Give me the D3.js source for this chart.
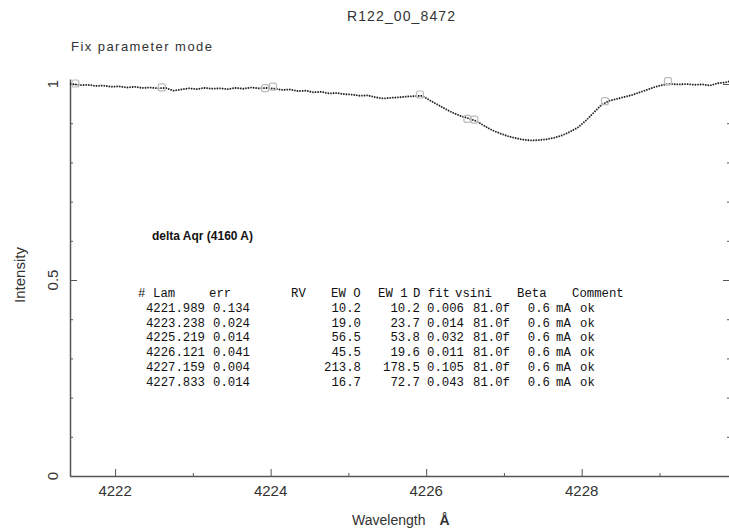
<!DOCTYPE html>
<html>
<head>
<meta charset="utf-8">
<script src="https://cdn.jsdelivr.net/npm/d3@7"></script>
<style>
  body { margin: 0; background: #fff; }
  svg { display: block; }
  .axis path, .axis line { stroke: #555; }
  .axis path { stroke-width: 1.5; }
  .lbl { font-family: "Liberation Sans", Arial, sans-serif; fill: #333; }
  .tbl { font-family: "Liberation Mono", "Courier New", monospace; font-size: 12.3px; fill: #111; }
</style>
</head>
<body>
<svg id="chart" width="729" height="530"></svg>
<script>
// spectrum: [wavelength, intensity]
var spectrum = [
  [4221.42, 1.000], [4221.45, 1.000], [4221.55, 0.997], [4221.65, 0.998], [4221.75, 0.995],
  [4221.85, 0.996], [4221.95, 0.993], [4222.05, 0.994], [4222.15, 0.991], [4222.25, 0.993],
  [4222.35, 0.990], [4222.45, 0.991], [4222.55, 0.989], [4222.65, 0.990], [4222.75, 0.983],
  [4222.85, 0.986], [4222.95, 0.989], [4223.05, 0.987], [4223.15, 0.990], [4223.25, 0.988],
  [4223.35, 0.989], [4223.45, 0.987], [4223.55, 0.990], [4223.65, 0.988], [4223.75, 0.991],
  [4223.85, 0.989], [4223.95, 0.990], [4224.05, 0.988], [4224.15, 0.985], [4224.25, 0.986],
  [4224.35, 0.982], [4224.45, 0.983], [4224.55, 0.979], [4224.65, 0.980], [4224.75, 0.976],
  [4224.85, 0.977], [4224.95, 0.974], [4225.05, 0.973], [4225.15, 0.970], [4225.25, 0.971],
  [4225.35, 0.966], [4225.45, 0.963], [4225.55, 0.965], [4225.65, 0.966], [4225.75, 0.968],
  [4225.85, 0.969], [4225.95, 0.970], [4226.05, 0.958], [4226.15, 0.947], [4226.25, 0.936],
  [4226.35, 0.926], [4226.45, 0.918], [4226.55, 0.912], [4226.65, 0.905], [4226.75, 0.893],
  [4226.85, 0.882], [4226.95, 0.874], [4227.05, 0.867], [4227.15, 0.862], [4227.25, 0.858],
  [4227.35, 0.856], [4227.45, 0.857], [4227.55, 0.859], [4227.65, 0.863], [4227.75, 0.869],
  [4227.85, 0.878], [4227.95, 0.889], [4228.05, 0.906], [4228.15, 0.926], [4228.25, 0.946],
  [4228.35, 0.957], [4228.45, 0.962], [4228.55, 0.967], [4228.65, 0.972], [4228.75, 0.979],
  [4228.85, 0.986], [4228.95, 0.993], [4229.05, 0.998], [4229.15, 1.000], [4229.25, 0.999],
  [4229.35, 1.000], [4229.45, 0.998], [4229.55, 0.999], [4229.65, 0.996], [4229.75, 1.002],
  [4229.85, 1.004], [4229.92, 1.008]
];

// grey continuum / limit markers
var markers = [
  [4221.49, 1.000], [4222.60, 0.990], [4223.93, 0.988], [4224.03, 0.992], [4225.92, 0.972],
  [4226.53, 0.910], [4226.62, 0.908], [4228.30, 0.955], [4229.11, 1.006]
];

var xMajor = [4222, 4224, 4226, 4228];
var xMinor = [4223, 4225, 4227, 4229];
var yMajor = [0, 0.5, 1];
var yMinor = [0.1, 0.2, 0.3, 0.4, 0.6, 0.7, 0.8, 0.9];
var yLabels = ["0", "0.5", "1"];

// line table
var tblHeader = ["#", "Lam", "err", "RV", "EW O", "EW 1", "D fit", "vsini", "Beta", "Comment"];
var lam   = ["4221.989", "4223.238", "4225.219", "4226.121", "4227.159", "4227.833"];
var err   = ["0.134", "0.024", "0.014", "0.041", "0.004", "0.014"];
var ew0   = ["10.2", "19.0", "56.5", "45.5", "213.8", "16.7"];
var ew1   = ["10.2", "23.7", "53.8", "19.6", "178.5", "72.7"];
var dfit  = ["0.006", "0.014", "0.032", "0.011", "0.105", "0.043"];
var vsini = ["81.0f", "81.0f", "81.0f", "81.0f", "81.0f", "81.0f"];
var beta  = ["0.6", "0.6", "0.6", "0.6", "0.6", "0.6"];
var unit  = ["mA", "mA", "mA", "mA", "mA", "mA"];
var comment = ["ok", "ok", "ok", "ok", "ok", "ok"];

var svg = d3.select("#chart");

var x = d3.scaleLinear().domain([4221.42, 4229.92]).range([70, 731]);
var y = d3.scaleLinear().domain([0, 1.0128]).range([476, 79]);

// axes
svg.append("g").attr("class", "axis")
    .attr("transform", "translate(0,476)")
    .call(d3.axisTop(x).tickValues(xMajor).tickSize(7).tickSizeOuter(0).tickFormat(""));
svg.append("g").attr("class", "axis")
    .attr("transform", "translate(0,476)")
    .call(d3.axisTop(x).tickValues(xMinor).tickSize(3).tickSizeOuter(0).tickFormat(""))
    .select(".domain").remove();

svg.append("g").attr("class", "axis")
    .attr("transform", "translate(70,0)")
    .call(d3.axisRight(y).tickValues(yMajor).tickSize(7).tickSizeOuter(0).tickFormat(""));
svg.append("g").attr("class", "axis")
    .attr("transform", "translate(70,0)")
    .call(d3.axisRight(y).tickValues(yMinor).tickSize(3).tickSizeOuter(0).tickFormat(""))
    .select(".domain").remove();

// right side ticks (axis line itself is just off the picture)
svg.append("g").attr("class", "axis")
    .attr("transform", "translate(730,0)")
    .call(d3.axisLeft(y).tickValues(yMajor).tickSize(7).tickSizeOuter(0).tickFormat(""));
svg.append("g").attr("class", "axis")
    .attr("transform", "translate(730,0)")
    .call(d3.axisLeft(y).tickValues(yMinor).tickSize(3).tickSizeOuter(0).tickFormat(""))
    .select(".domain").remove();

// tick labels
svg.selectAll(".xlab").data(xMajor).enter().append("text")
    .attr("class", "lbl")
    .attr("x", function (d) { return x(d); })
    .attr("y", 496)
    .attr("text-anchor", "middle")
    .style("font-size", "15px")
    .text(function (d) { return d; });

svg.selectAll(".ylab").data(yMajor).enter().append("text")
    .attr("class", "lbl")
    .attr("transform", function (d) { return "translate(58," + y(d) + ") rotate(-90)"; })
    .attr("text-anchor", "middle")
    .style("font-size", "15px")
    .text(function (d, i) { return yLabels[i]; });

// titles
svg.append("text").attr("class", "lbl")
    .attr("x", 401).attr("y", 21).attr("text-anchor", "middle")
    .style("font-size", "14px")
    .attr("textLength", 108).attr("lengthAdjust", "spacing")
    .text("R122_00_8472");

svg.append("text").attr("class", "lbl")
    .attr("x", 71).attr("y", 51)
    .style("font-size", "13px")
    .attr("textLength", 141).attr("lengthAdjust", "spacing")
    .text("Fix parameter mode");

svg.append("text").attr("class", "lbl")
    .attr("transform", "translate(25,275) rotate(-90)")
    .attr("text-anchor", "middle")
    .style("font-size", "15px")
    .text("Intensity");

var xt = svg.append("text").attr("class", "lbl")
    .attr("x", 352).attr("y", 525)
    .style("font-size", "14px");
xt.append("tspan").text("Wavelength");
xt.append("tspan").attr("dx", 14).style("font-weight", "bold").text("Å");

svg.append("text").attr("class", "lbl")
    .attr("x", 152).attr("y", 240)
    .style("font-size", "12px").style("font-weight", "bold").style("fill", "#111")
    .attr("textLength", 101).attr("lengthAdjust", "spacingAndGlyphs")
    .text("delta Aqr (4160 A)");

// spectrum
var line = d3.line()
    .x(function (d) { return x(d[0]); })
    .y(function (d) { return y(d[1]); });

svg.append("path")
    .datum(spectrum)
    .attr("d", line)
    .attr("fill", "none")
    .attr("stroke", "#999")
    .attr("stroke-width", 0.6);

svg.append("path")
    .datum(spectrum)
    .attr("d", line)
    .attr("fill", "none")
    .attr("stroke", "#1a1a1a")
    .attr("stroke-width", 1.8)
    .attr("stroke-dasharray", "1.3,1.3");

svg.selectAll(".mk").data(markers).enter().append("rect")
    .attr("x", function (d) { return x(d[0]) - 3.5; })
    .attr("y", function (d) { return y(d[1]) - 4; })
    .attr("width", 7).attr("height", 7)
    .attr("rx", 2)
    .attr("fill", "none")
    .attr("stroke", "#bbb")
    .attr("stroke-width", 1.2);

// table
var headX = [138, 153, 209, 291, 331, 378, 413, 455, 517, 572];
svg.selectAll(".th").data(tblHeader).enter().append("text")
    .attr("class", "tbl")
    .attr("x", function (d, i) { return headX[i]; })
    .attr("y", 297)
    .text(function (d) { return d; });

var rowY = [312, 327, 341, 356, 371, 386];
var cols = [
  {v: lam, x: 205, a: "end"},
  {v: err, x: 250, a: "end"},
  {v: ew0, x: 361, a: "end"},
  {v: ew1, x: 420, a: "end"},
  {v: dfit, x: 464, a: "end"},
  {v: vsini, x: 510, a: "end"},
  {v: beta, x: 550, a: "end"},
  {v: unit, x: 556, a: "start"},
  {v: comment, x: 580, a: "start"}
];
cols.forEach(function (c) {
    svg.selectAll(null).data(c.v).enter().append("text")
        .attr("class", "tbl")
        .attr("x", c.x)
        .attr("y", function (d, i) { return rowY[i]; })
        .attr("text-anchor", c.a)
        .text(function (d) { return d; });
});
</script>
</body>
</html>
